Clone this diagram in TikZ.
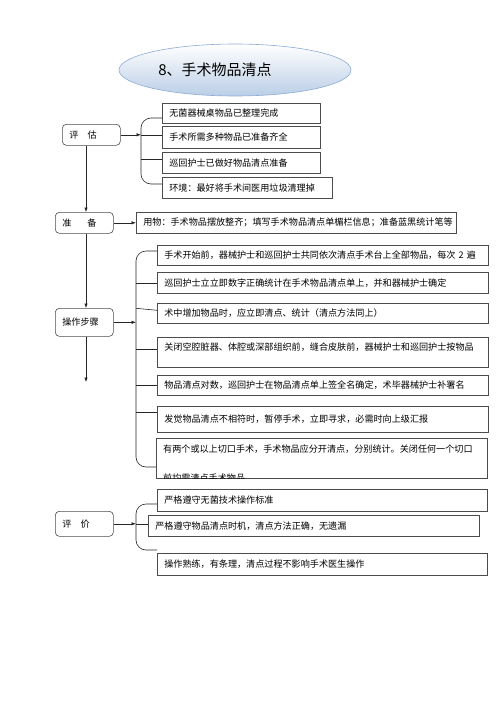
\documentclass[tikz,border=0pt]{standalone}
\usepackage{fontspec}
\setmainfont{Noto Sans CJK SC}
\usetikzlibrary{arrows.meta}
\usetikzlibrary{shapes.geometric}

\definecolor{titlefill}{RGB}{186,206,230}
\definecolor{titleedge}{RGB}{140,172,212}

\tikzset{
  headbox/.style={draw=black!70, line width=0.6pt, rounded corners=4pt, anchor=north west,
                  inner xsep=7pt, inner ysep=0pt, text width=44pt, align=left,
                  font=\fontsize{9.1}{11}\selectfont},
  stepbox/.style={draw=black!70, line width=0.6pt, anchor=north west,
                  inner xsep=7pt, inner ysep=0pt, align=left,
                  font=\fontsize{9.1}{11}\selectfont},
  link/.style={draw=black!85, line width=0.6pt},
  arr/.style={link, -{Latex[length=4.5pt,width=3.5pt]}},
  brace/.style={link, rounded corners=10pt},
}

\begin{document}
\begin{tikzpicture}[x=1pt, y=-1pt]
	\useasboundingbox (0,0) rectangle (500,707);

	% title
	\node[ellipse, draw=titleedge, line width=0.6pt, top color=white, bottom color=titlefill,
	      minimum width=232pt, minimum height=52pt, inner sep=0pt,
	      font=\fontsize{15}{18}\selectfont] (title) at (235,70) {8、手术物品清点\kern40pt};

	% left column
	\begin{scope}[every node/.style={headbox}]
		\node[minimum height=21pt] (pg) at (62,124) {评\quad 估};
		\node[minimum height=21pt] (zb) at (55,212) {准\hspace{16pt}备};
		\node[minimum height=28pt] (cz) at (55,308) {操作步骤};
		\node[minimum height=25pt] (pj) at (55,511) {评\quad 价};
	\end{scope}

	% right column
	\begin{scope}[every node/.style={stepbox}]
		\node[text width=144pt, minimum height=20pt] (a1) at (162,103) {无菌器械桌物品已整理完成};
		\node[text width=144pt, minimum height=22pt] (a2) at (162,126) {手术所需多种物品已准备齐全};
		\node[text width=144pt, minimum height=21pt] (a3) at (162,152) {巡回护士已做好物品清点准备};
		\node[text width=156pt, minimum height=21pt] (a4) at (162,177) {环境：最好将手术间医用垃圾清理掉};

		\node[text width=306pt, minimum height=21pt] (b1) at (136,212) {用物：手术物品摆放整齐；填写手术物品清点单楣栏信息；准备蓝黑统计笔等};

		\node[text width=317pt, minimum height=20pt] (s1) at (157,245) {手术开始前，器械护士和巡回护士共同依次清点手术台上全部物品，每次~2~遍};
		\node[text width=317pt, minimum height=21pt] (s2) at (157,272) {巡回护士立立即数字正确统计在手术物品清点单上，并和器械护士确定};
		\node[text width=317pt, minimum height=20pt] (s3) at (157,303) {术中增加物品时，应立即清点、统计（清点方法同上）};
		\node[text width=317pt, minimum height=30pt] (s4) at (157,337) {关闭空腔脏器、体腔或深部组织前，缝合皮肤前，器械护士和巡回护士按物品\\\mbox{}};
		\node[text width=317pt, minimum height=20pt] (s5) at (157,375) {物品清点对数，巡回护士在物品清点单上签全名确定，术毕器械护士补署名};
		\node[text width=317pt, minimum height=26pt] (s6) at (157,406) {发觉物品清点不相符时，暂停手术，立即寻求，必需时向上级汇报};
		\node[text width=317pt, minimum height=40pt] (s7) at (156,438) {};

		\node[text width=316pt, minimum height=22pt] (e1) at (157,489) {严格遵守无菌技术操作标准};
		\node[text width=317pt, minimum height=21pt] (e2) at (148,515) {严格遵守物品清点时机，清点方法正确，无遗漏};
		\node[text width=316pt, minimum height=22pt] (e3) at (157,553) {操作熟练，有条理，清点过程不影响手术医生操作};
	\end{scope}

	% last step, second line cut off by the box
	\begin{scope}
		\clip (s7.north west) rectangle (s7.south east);
		\node[anchor=north west, align=left, inner sep=0pt, font=\fontsize{9.1}{11}\selectfont]
			(s7t) at ([xshift=7pt, yshift=-7pt]s7.north west)
			{有两个或以上切口手术，手术物品应分开清点，分别统计。关闭任何一个切口\\[18pt]前均需清点手术物品};
	\end{scope}

	% main line
	\coordinate (spine) at (86,382);
	\draw[arr] (pg.south -| spine) -- (zb.north -| spine);
	\draw[arr] (zb.south -| spine) -- (cz.north -| spine);
	\draw[arr] (cz.south -| spine) -- (spine);

	% brackets
	\coordinate (ta) at (141,118);
	\coordinate (tb) at (141,184);
	\coordinate (tc) at (136,251);
	\coordinate (td) at (136,467);
	\coordinate (te) at (136,504);
	\coordinate (tf) at (136,550);

	\draw[brace] (ta -| a1.west) -- (ta) -- (tb) -- (tb -| a4.west);
	\draw[arr] (pg.east) -- (pg.east -| ta);
	\draw[link] (pg.east -| ta) -- (pg.east -| a2.west);
	\draw[link] ([yshift=4pt]a3.west -| ta) -- ([yshift=4pt]a3.west);

	\draw[arr] (zb.east) -- (b1.west);

	\draw[brace] (tc -| s1.west) -- (tc) -- (td) -- (td -| s7.west);
	\draw[arr] (cz.east) -- (cz.east -| tc);
	\draw[link] (s2.west -| tc) -- (s2.west);
	\draw[link] ([yshift=5pt]s3.west -| tc) -- ([yshift=3pt]s3.west);
	\draw[link] ([yshift=3pt]s4.west -| tc) -- ([yshift=3pt]s4.west);
	\draw[link] (s5.west -| tc) -- (s5.west);
	\draw[link] ([yshift=7pt]s6.west -| tc) -- ([yshift=7pt]s6.west);

	\draw[brace] (te -| e1.west) -- (te) -- (tf) -- (tf -| e3.west);
	\draw[arr] (pj.east) -- (pj.east -| te);
	\draw[link] (pj.east -| te) -- (pj.east -| e2.west);
\end{tikzpicture}
\end{document}
